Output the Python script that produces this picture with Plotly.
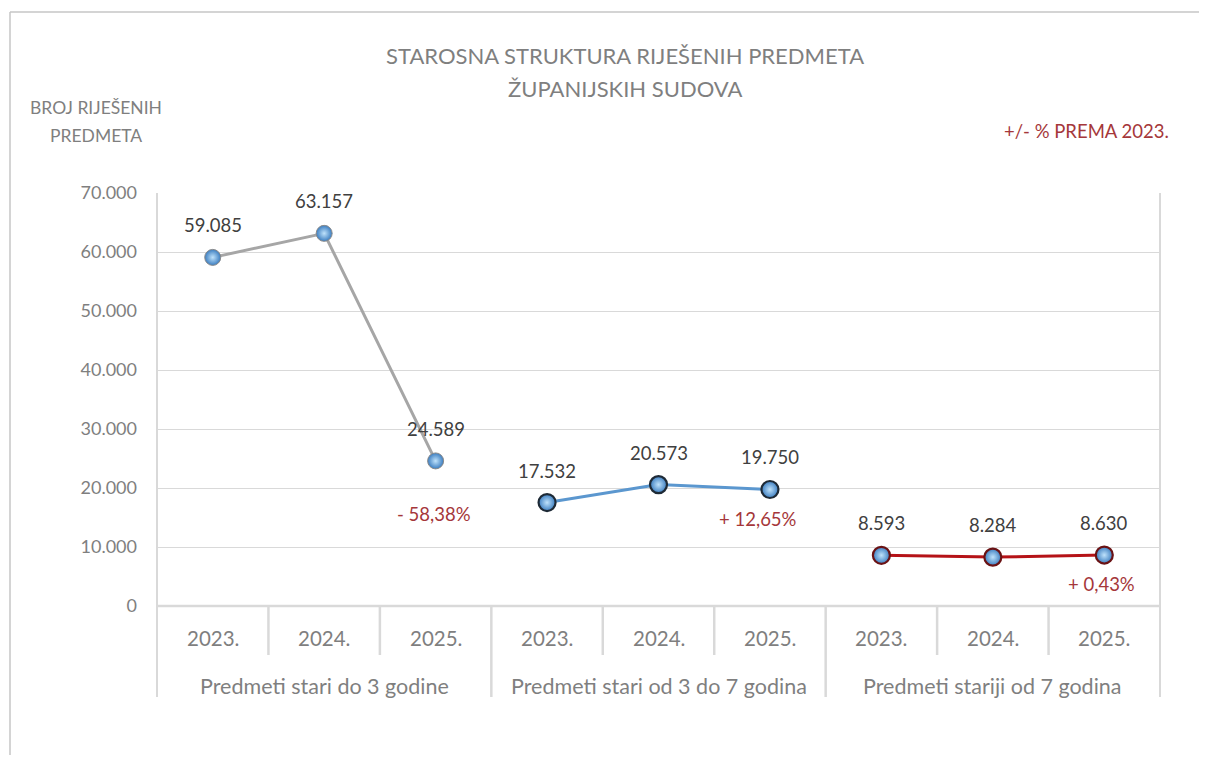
import plotly.graph_objects as go

groups = ["Predmeti stari do 3 godine", "Predmeti stari od 3 do 7 godina", "Predmeti stariji od 7 godina"]
years = ["2023.", "2024.", "2025."]
series_do3 = [59085, 63157, 24589]
series_3do7 = [17532, 20573, 19750]
series_od7 = [8593, 8284, 8630]
pct_labels = ["- 58,38%", "+ 12,65%", "+ 0,43%"]
y_ticks = [0, 10000, 20000, 30000, 40000, 50000, 60000, 70000]

# page geometry (browser body has an 8px margin)
OFF = 8
PW, PH = 1207, 763
L, R, T, B = 157, 1160, 193, 606
FONT = "Lato"
GRAY = "#7f7f7f"
LINEC = "#d9d9d9"
RED = "#a5373a"

def px(x):
    return (x - L) / (R - L)

def py(y):
    return (B - y) / (B - T)

fig = go.Figure()

series = [series_do3, series_3do7, series_od7]
line_colors = ["#a6a6a6", "#5b97cf", "#b51217"]
edge_colors = ["#8a8a8a", "#1e2a36", "#6a1214"]
edge_w = [1, 2.2, 2.2]
msize = [16, 17, 17]

for gi, vals in enumerate(series):
    xs = [gi * 3 + k for k in range(3)]
    fig.add_trace(go.Scatter(
        x=xs, y=vals, mode="lines+markers",
        line=dict(color=line_colors[gi], width=3),
        marker=dict(size=msize[gi], color="#3b7dc0",
                    gradient=dict(type="radial", color="#bfe2fb"),
                    line=dict(color=edge_colors[gi], width=edge_w[gi])),
        hoverinfo="skip", showlegend=False,
    ))
    for k, v in enumerate(vals):
        fig.add_annotation(x=xs[k], y=v, xref="x", yref="y",
                           text=f"{v:,}".replace(",", "."), showarrow=False,
                           yshift=32, font=dict(family=FONT, size=18.5, color="#404040"))

# percent change annotations
pct_shift = [(-2, -53), (-12, -30), (-3, -29)]
for gi, vals in enumerate(series):
    fig.add_annotation(x=gi * 3 + 2, y=vals[2], xref="x", yref="y", text=pct_labels[gi],
                       showarrow=False, xshift=pct_shift[gi][0], yshift=pct_shift[gi][1],
                       font=dict(family=FONT, size=18.5, color=RED))

shapes = []
# outer frame
shapes.append(dict(type="line", xref="paper", yref="paper", x0=px(10), x1=px(10), y0=py(PH + 5), y1=py(12),
                   line=dict(color="#c6c6c6", width=1.5)))
shapes.append(dict(type="line", xref="paper", yref="paper", x0=px(10), x1=px(PW + 5), y0=py(12), y1=py(12),
                   line=dict(color="#c6c6c6", width=1.5)))
# plot area left/right borders extending into category area
for xx in [L, R]:
    shapes.append(dict(type="line", xref="paper", yref="paper", x0=px(xx), x1=px(xx), y0=py(697), y1=1,
                       line=dict(color=LINEC, width=2)))
# category axis line
shapes.append(dict(type="line", xref="paper", yref="paper", x0=0, x1=1, y0=0, y1=0,
                   line=dict(color=LINEC, width=2.5)))
# dividers
for i in range(1, 9):
    xb = i - 0.5
    bottom = py(697) if i % 3 == 0 else py(655)
    shapes.append(dict(type="line", xref="x", yref="paper", x0=xb, x1=xb, y0=bottom, y1=0,
                       line=dict(color=LINEC, width=2.5)))

# category labels
for i in range(9):
    fig.add_annotation(x=i, y=py(638), xref="x", yref="paper", text=years[i % 3], showarrow=False,
                       font=dict(family=FONT, size=20.5, color=GRAY), xanchor="center", yanchor="middle")
for gi, g in enumerate(groups):
    fig.add_annotation(x=gi * 3 + 1, y=py(686), xref="x", yref="paper", text=g, showarrow=False,
                       font=dict(family=FONT, size=21.5, color=GRAY), xanchor="center", yanchor="middle")

# title (two lines)
for txt, yy in [("STAROSNA STRUKTURA RIJEŠENIH PREDMETA", 55), ("ŽUPANIJSKIH SUDOVA", 88)]:
    fig.add_annotation(x=px(625), y=py(yy), xref="paper", yref="paper", text=txt,
                       showarrow=False, xanchor="center", yanchor="middle",
                       font=dict(family=FONT, size=22, color=GRAY))
# y axis title
for txt, yy in [("BROJ RIJEŠENIH", 107), ("PREDMETA", 136)]:
    fig.add_annotation(x=px(96), y=py(yy), xref="paper", yref="paper", text=txt,
                       showarrow=False, xanchor="center", yanchor="middle",
                       font=dict(family=FONT, size=17.5, color=GRAY))
# note
fig.add_annotation(x=px(1171), y=py(131), xref="paper", yref="paper", xanchor="right",
                   text="+/- % PREMA 2023.", showarrow=False, yanchor="middle",
                   font=dict(family=FONT, size=18.5, color=RED))

fig.update_layout(
    width=PW - 2 * OFF, height=PH - 2 * OFF,
    margin=dict(l=L - OFF, r=(PW - OFF) - R, t=T - OFF, b=(PH - OFF) - B, pad=0),
    paper_bgcolor="white", plot_bgcolor="white",
    separators=",.",
    shapes=shapes,
    xaxis=dict(range=[-0.5, 8.5], showticklabels=False, showgrid=False, zeroline=False,
               showline=False, fixedrange=True),
    yaxis=dict(range=[0, 70000], tickvals=y_ticks, tickformat=",.0f", showgrid=True,
               gridcolor=LINEC, gridwidth=1.3, zeroline=False, showline=False,
               ticks="", ticklabelstandoff=19,
               tickfont=dict(family=FONT, size=18, color=GRAY), fixedrange=True),
)

fig.write_html("out.html")
